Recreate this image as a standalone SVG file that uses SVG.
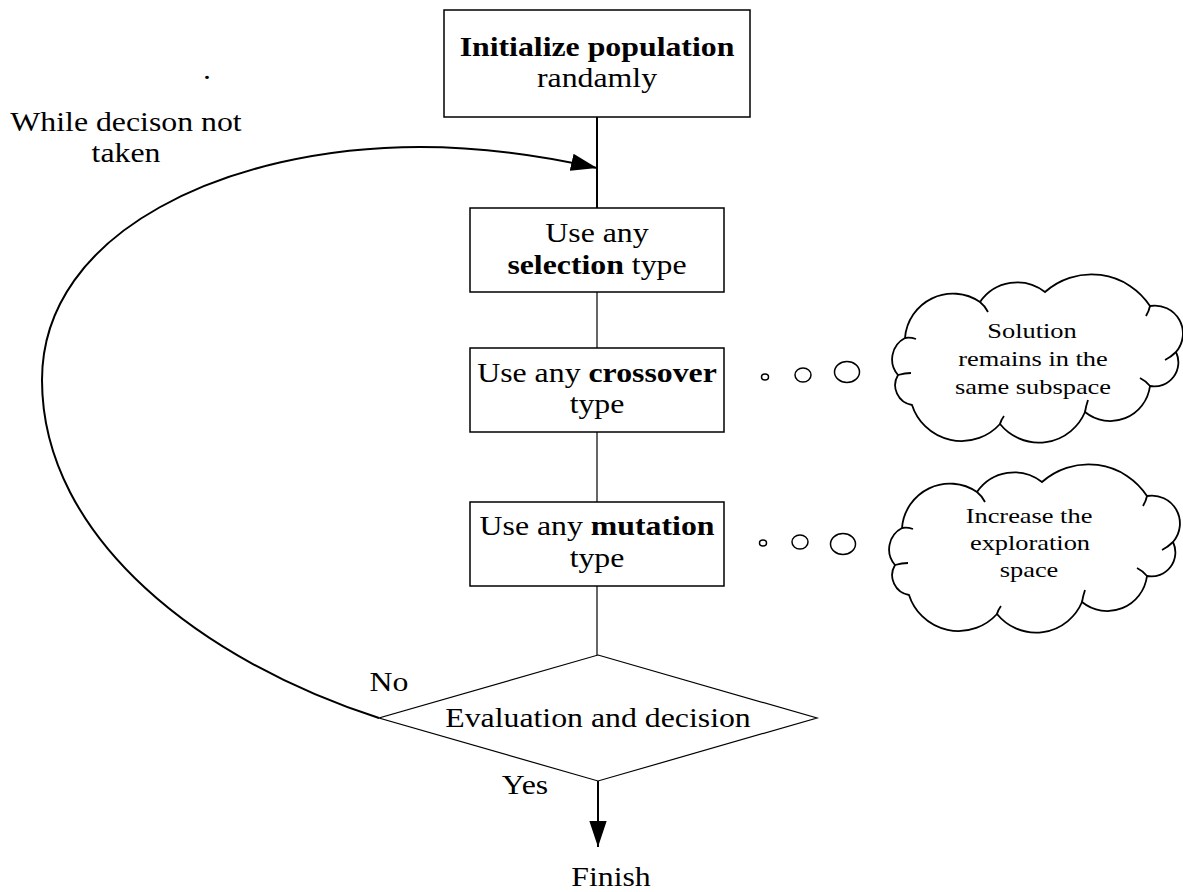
<svg xmlns="http://www.w3.org/2000/svg" width="1183" height="892" viewBox="0 0 1183 892">
<style>
text{font-family:"Liberation Serif","Times New Roman",serif;fill:#000;}
.t{font-size:26.5px;text-anchor:middle;}
.c{font-size:22px;text-anchor:middle;}
.b{font-weight:bold;}
.box{fill:#fff;stroke:#000;stroke-width:1.5;}
.ln{fill:none;stroke:#000;stroke-width:1.2;}
.cl{fill:#fff;stroke:#000;stroke-width:1.8;}
.tail{fill:none;stroke:#000;stroke-width:1.8;}
</style>
<defs>
<marker id="ah" markerUnits="userSpaceOnUse" markerWidth="26" markerHeight="18" viewBox="0 0 24 16" refX="24" refY="8" orient="auto">
<path d="M0,0 L24,8 L0,16 z" fill="#000"/>
</marker>
<g id="cloud">
<path class="cl" d="M905,338 A48,48 0 0 1 980,302 A45,45 0 0 1 1045,292 A70,70 0 0 1 1150,306 A28,28 0 0 1 1176,352 A24,24 0 0 1 1150,386 A40,40 0 0 1 1085,412 A50,50 0 0 1 1000,424 A52,52 0 0 1 912,405 A20,20 0 0 1 898,375 A24,24 0 0 1 905,338 Z"/>
<path class="tail" d="M905,338 Q910,337 916,339 M980,302 Q985,306 988,312 M1150,306 Q1149,311 1146,316 M1176,352 Q1171,357 1165,360 M1150,386 Q1146,381 1140,378 M1085,412 Q1086,406 1088,400 M1000,424 Q1001,420 1004,416 M898,375 Q905,373 911,373"/>
</g>
</defs>

<g id="connectors">
<line class="ln" x1="597" y1="117" x2="597" y2="208" style="stroke-width:2"/>
<line class="ln" x1="597" y1="292" x2="597" y2="348"/>
<line class="ln" x1="597" y1="432" x2="597" y2="502"/>
<line class="ln" x1="597" y1="586" x2="597" y2="655"/>
<path class="ln" d="M379,718 C205,662 42,540 42,380 C42,230 230,147 420,147 C480,147 540,155 597,168" style="stroke-width:2" marker-end="url(#ah)"/>
<line class="ln" x1="598" y1="781" x2="598" y2="847" style="stroke-width:2" marker-end="url(#ah)"/>
</g>

<g id="n-init">
<rect class="box" x="444" y="10" width="306" height="107"/>
<text class="t b" transform="translate(597,56) scale(1.2,1)">Initialize population</text>
<text class="t" transform="translate(597,87) scale(1.2,1)">randamly</text>
</g>

<g id="n-selection">
<rect class="box" x="470" y="208" width="254" height="84"/>
<text class="t" transform="translate(597,242) scale(1.2,1)">Use any</text>
<text class="t" transform="translate(597,274) scale(1.2,1)"><tspan class="b">selection</tspan> type</text>
</g>

<g id="n-crossover">
<rect class="box" x="470" y="348" width="254" height="84"/>
<text class="t" transform="translate(597,382) scale(1.2,1)">Use any <tspan class="b">crossover</tspan></text>
<text class="t" transform="translate(597,413) scale(1.2,1)">type</text>
</g>

<g id="n-mutation">
<rect class="box" x="470" y="502" width="254" height="84"/>
<text class="t" transform="translate(597,535) scale(1.2,1)">Use any <tspan class="b">mutation</tspan></text>
<text class="t" transform="translate(597,567) scale(1.2,1)">type</text>
</g>

<g id="n-decision">
<polygon points="598,655 817,718 598,781 379,718" fill="#fff" stroke="#000" stroke-width="1.2"/>
<text class="t" transform="translate(598,727) scale(1.2,1)">Evaluation and decision</text>
</g>

<g id="labels">
<text class="t" transform="translate(126,131) scale(1.2,1)">While decison not</text>
<text class="t" transform="translate(126,162) scale(1.2,1)">taken</text>
<text class="t" transform="translate(207,79) scale(1.2,1)">.</text>
<text class="t" transform="translate(389,691) scale(1.2,1)">No</text>
<text class="t" transform="translate(525,794) scale(1.2,1)">Yes</text>
<text class="t" transform="translate(611,886) scale(1.2,1)">Finish</text>
</g>

<g id="n-cloud1">
<ellipse cx="765" cy="377" rx="3.5" ry="3" fill="#fff" stroke="#000" stroke-width="1.5"/>
<ellipse cx="803" cy="375" rx="8" ry="7" fill="#fff" stroke="#000" stroke-width="1.5"/>
<ellipse cx="847" cy="372" rx="12.5" ry="10.5" fill="#fff" stroke="#000" stroke-width="1.5"/>
<use href="#cloud"/>
<text class="c" transform="translate(1032,338) scale(1.2,1)">Solution</text>
<text class="c" transform="translate(1033,366) scale(1.2,1)">remains in the</text>
<text class="c" transform="translate(1033,394) scale(1.2,1)">same subspace</text>
</g>

<g id="n-cloud2">
<ellipse cx="763" cy="543" rx="3.5" ry="3" fill="#fff" stroke="#000" stroke-width="1.5"/>
<ellipse cx="800" cy="542" rx="8" ry="7" fill="#fff" stroke="#000" stroke-width="1.5"/>
<ellipse cx="843" cy="544" rx="12.5" ry="10.5" fill="#fff" stroke="#000" stroke-width="1.5"/>
<use href="#cloud" transform="translate(-3,190)"/>
<text class="c" transform="translate(1029,523) scale(1.2,1)">Increase the</text>
<text class="c" transform="translate(1030,550) scale(1.2,1)">exploration</text>
<text class="c" transform="translate(1029,577) scale(1.2,1)">space</text>
</g>
</svg>
